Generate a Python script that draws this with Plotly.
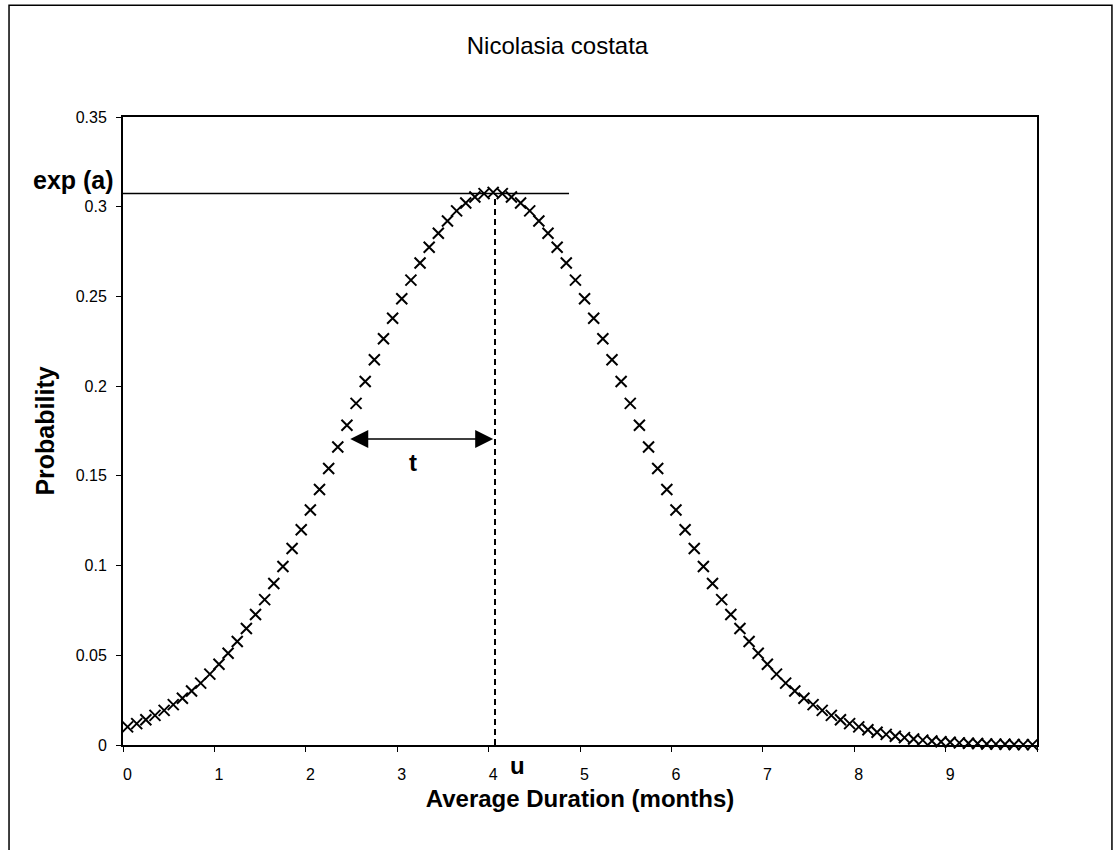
import plotly.graph_objects as go

# Categories: average duration (months)
duration = [
    0.0, 0.1, 0.2, 0.3, 0.4, 0.5, 0.6, 0.7, 0.8, 0.9,
    1.0, 1.1, 1.2, 1.3, 1.4, 1.5, 1.6, 1.7, 1.8, 1.9,
    2.0, 2.1, 2.2, 2.3, 2.4, 2.5, 2.6, 2.7, 2.8, 2.9,
    3.0, 3.1, 3.2, 3.3, 3.4, 3.5, 3.6, 3.7, 3.8, 3.9,
    4.0, 4.1, 4.2, 4.3, 4.4, 4.5, 4.6, 4.7, 4.8, 4.9,
    5.0, 5.1, 5.2, 5.3, 5.4, 5.5, 5.6, 5.7, 5.8, 5.9,
    6.0, 6.1, 6.2, 6.3, 6.4, 6.5, 6.6, 6.7, 6.8, 6.9,
    7.0, 7.1, 7.2, 7.3, 7.4, 7.5, 7.6, 7.7, 7.8, 7.9,
    8.0, 8.1, 8.2, 8.3, 8.4, 8.5, 8.6, 8.7, 8.8, 8.9,
    9.0, 9.1, 9.2, 9.3, 9.4, 9.5, 9.6, 9.7, 9.8, 9.9,
]

# Series values: probability
probability = [
    0.0101, 0.0119, 0.0141, 0.0165, 0.0193, 0.0225, 0.0261, 0.0301, 0.0345, 0.0395,
    0.0450, 0.0511, 0.0577, 0.0649, 0.0727, 0.0810, 0.0900, 0.0995, 0.1095, 0.1200,
    0.1310, 0.1424, 0.1541, 0.1661, 0.1782, 0.1904, 0.2026, 0.2147, 0.2264, 0.2378,
    0.2487, 0.2591, 0.2686, 0.2774, 0.2852, 0.2920, 0.2977, 0.3021, 0.3054, 0.3073,
    0.3080, 0.3073, 0.3054, 0.3021, 0.2977, 0.2920, 0.2852, 0.2774, 0.2686, 0.2591,
    0.2487, 0.2378, 0.2264, 0.2147, 0.2026, 0.1904, 0.1782, 0.1661, 0.1541, 0.1424,
    0.1310, 0.1200, 0.1095, 0.0995, 0.0900, 0.0810, 0.0727, 0.0649, 0.0577, 0.0511,
    0.0450, 0.0395, 0.0345, 0.0301, 0.0261, 0.0225, 0.0193, 0.0165, 0.0141, 0.0119,
    0.0101, 0.0085, 0.0071, 0.0059, 0.0049, 0.0041, 0.0033, 0.0027, 0.0022, 0.0018,
    0.0015, 0.0012, 0.0010, 0.0008, 0.0006, 0.0005, 0.0004, 0.0003, 0.0002, 0.0002,
]

x_tick_vals = [0, 1, 2, 3, 4, 5, 6, 7, 8, 9]
x_tick_labels = ["0", "1", "2", "3", "4", "5", "6", "7", "8", "9"]
x_boundary_ticks = [-0.05, 0.95, 1.95, 2.95, 3.95, 4.95, 5.95, 6.95, 7.95, 8.95, 9.95]

# Annotation parameters
exp_a = 0.3073        # height of the peak line
u = 4.02              # location of the peak
exp_line_end = 4.83   # where the exp(a) line stops
t_left = 2.42         # left end of the t arrow
t_right = 4.0         # right end of the t arrow
t_level = 0.1705      # height of the t arrow

FONT = "Arial, Liberation Sans, sans-serif"

fig = go.Figure()
fig.add_trace(go.Scatter(
    x=duration, y=probability, mode="markers",
    marker=dict(symbol="x-thin", size=11, color="black",
                line=dict(color="black", width=2)),
    cliponaxis=False, showlegend=False,
))

fig.add_shape(type="line", xref="x", yref="y", x0=-0.05, x1=exp_line_end,
              y0=exp_a, y1=exp_a, line=dict(color="black", width=1.5))
fig.add_shape(type="line", xref="x", yref="y", x0=u, x1=u, y0=0, y1=exp_a,
              line=dict(color="black", width=2, dash="6px,4px"))
# outer chart-area border
fig.add_shape(type="rect", xref="paper", yref="paper",
              x0=-0.1247, x1=1.082, y0=-0.3, y1=1.178,
              line=dict(color="black", width=1.5), layer="below")

fig.add_annotation(x=t_right, y=t_level, ax=t_left, ay=t_level,
                   xref="x", yref="y", axref="x", ayref="y", text="",
                   showarrow=True, arrowhead=2, arrowside="end+start",
                   arrowsize=2.4, arrowwidth=1.5, arrowcolor="black",
                   standoff=0, startstandoff=0)
fig.add_annotation(x=(t_left + t_right) / 2, y=t_level, xref="x", yref="y",
                   text="<b>t</b>", showarrow=False, xshift=-8, yshift=-23,
                   font=dict(family=FONT, size=24, color="black"))
fig.add_annotation(x=u, y=0, xref="x", yref="y", text="<b>u</b>",
                   showarrow=False, xshift=22, yshift=-20,
                   font=dict(family=FONT, size=24, color="black"))
fig.add_annotation(x=0, xref="paper", y=exp_a, yref="y", text="<b>exp (a)</b>",
                   showarrow=False, xanchor="right", xshift=-7, yshift=14,
                   font=dict(family=FONT, size=25, color="black"))

fig.update_layout(
    width=1115, height=850,
    margin=dict(l=123, r=78, t=117, b=105),
    paper_bgcolor="white", plot_bgcolor="white",
    font=dict(family=FONT, color="black"),
    title=dict(text="Nicolasia costata", x=0.5, xref="container", xanchor="center",
               y=1 - 46 / 850, yref="container", yanchor="middle",
               font=dict(family=FONT, size=24, color="black")),
    xaxis=dict(range=[-0.05, 9.95], tickvals=x_tick_vals, ticktext=x_tick_labels,
               ticks="", ticklabelstandoff=14,
               tickfont=dict(family=FONT, size=16, color="black"),
               minor=dict(tickvals=x_boundary_ticks, ticks="outside", ticklen=5,
                          tickwidth=1, tickcolor="black", showgrid=False),
               showgrid=False, zeroline=False, showline=True, linecolor="black",
               linewidth=2, mirror=True,
               title=dict(text="<b>Average Duration (months)</b>", standoff=8,
                          font=dict(family=FONT, size=24, color="black"))),
    yaxis=dict(range=[0, 0.35], dtick=0.05, tick0=0, ticks="outside", ticklen=5,
               tickwidth=1, tickcolor="black", ticklabelstandoff=6,
               tickfont=dict(family=FONT, size=16, color="black"),
               showgrid=False, zeroline=False, showline=True, linecolor="black",
               linewidth=2, mirror=True,
               title=dict(text="<b>Probability</b>", standoff=14,
                          font=dict(family=FONT, size=25, color="black"))),
)

fig.write_html("out.html")
